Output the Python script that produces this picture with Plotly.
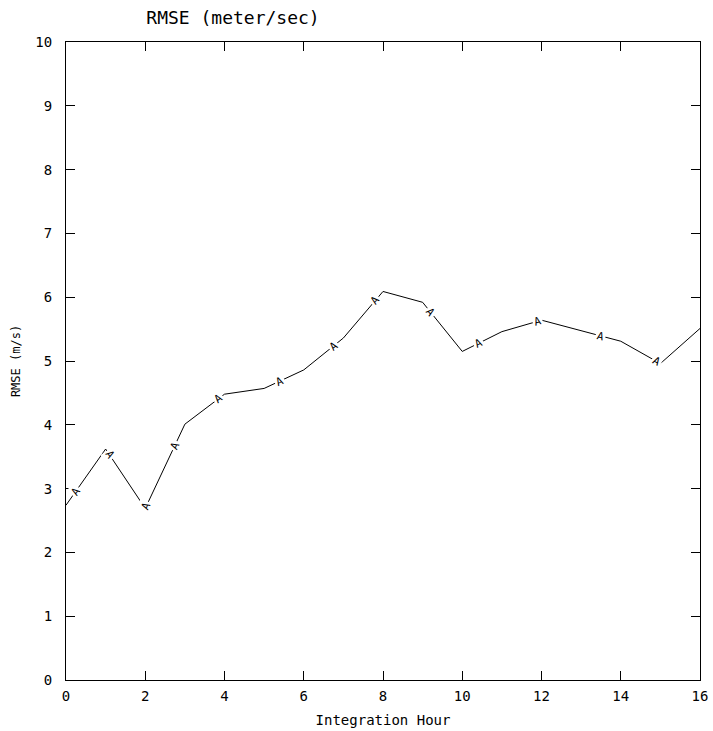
import numpy as np
import plotly.graph_objects as go

hours = [0, 1, 2, 3, 4, 5, 6, 7, 8, 9, 10, 11, 12, 13, 14, 15, 16]
rmse = [2.74, 3.62, 2.69, 4.01, 4.48, 4.57, 4.86, 5.36, 6.09, 5.92,
        5.15, 5.46, 5.64, 5.47, 5.31, 4.96, 5.51]
label_hours = [0.25, 1.1, 2.02, 2.75, 3.85, 5.4, 6.75, 7.8, 9.2, 10.4, 11.9, 13.5, 14.9]
x_ticks = [0, 2, 4, 6, 8, 10, 12, 14, 16]
y_ticks = list(range(0, 11))

W, H = 713, 731
ML, MR, MT, MB = 66, 13, 42, 51
px_x = (W - ML - MR) / 16.0
px_y = (H - MT - MB) / 10.0

FONT = "DejaVu Sans Mono"

fig = go.Figure()
fig.add_trace(go.Scatter(x=hours, y=rmse, mode="lines",
                         line=dict(color="black", width=1), showlegend=False,
                         hoverinfo="skip"))

xs = np.array(hours, dtype=float)
ys = np.array(rmse, dtype=float)
for lx in label_hours:
    ly = float(np.interp(lx, xs, ys))
    i = int(min(max(np.searchsorted(xs, lx) - 1, 0), len(xs) - 2))
    dx = (xs[i + 1] - xs[i]) * px_x
    dy = (ys[i + 1] - ys[i]) * px_y
    ang = -np.degrees(np.arctan2(dy, dx))
    fig.add_annotation(x=lx, y=ly, text="A", showarrow=False, textangle=ang,
                       font=dict(family=FONT, size=11, color="black"),
                       bgcolor="white", borderpad=1)

fig.update_layout(
    width=W, height=H,
    margin=dict(l=ML, r=MR, t=MT, b=MB, autoexpand=False),
    paper_bgcolor="white", plot_bgcolor="white",
    font=dict(family=FONT, color="black", size=13),
    title=dict(text="RMSE (meter/sec)", x=233 / W, xanchor="center",
               y=1 - 18 / H, yanchor="middle", automargin=False,
               font=dict(family=FONT, size=18, color="black")),
)
fig.update_xaxes(range=[0, 16], tickvals=x_ticks, ticktext=[str(v) for v in x_ticks],
                 ticks="inside", ticklen=9, tickcolor="black", tickwidth=1,
                 showline=True, linecolor="black", linewidth=1, mirror="ticks",
                 showgrid=False, zeroline=False, automargin=False,
                 tickfont=dict(family=FONT, size=14), ticklabelstandoff=3,
                 title=dict(text="Integration Hour", standoff=12,
                            font=dict(family=FONT, size=14)))
fig.update_yaxes(range=[0, 10], tickvals=y_ticks, ticktext=[str(v) for v in y_ticks],
                 ticks="inside", ticklen=9, tickcolor="black", tickwidth=1,
                 showline=True, linecolor="black", linewidth=1, mirror="ticks",
                 showgrid=False, zeroline=False, automargin=False,
                 tickfont=dict(family=FONT, size=14), ticklabelstandoff=10,
                 title=dict(text="RMSE (m/s)", standoff=12,
                            font=dict(family=FONT, size=12)))

fig.write_html("out.html", config={"displayModeBar": False},
               post_script="document.body.style.margin='0';document.body.style.overflow='hidden';")
